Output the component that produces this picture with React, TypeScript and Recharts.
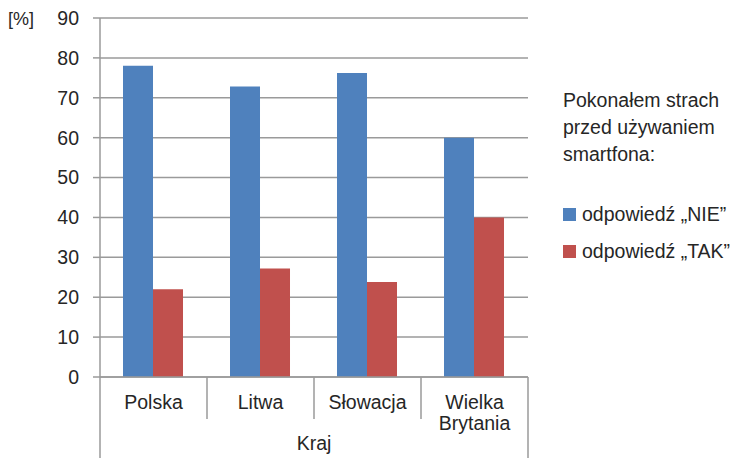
import { Bar, BarChart, CartesianGrid, Legend, XAxis, YAxis } from 'recharts';

const countries = ['Polska', 'Litwa', 'Słowacja', 'Wielka Brytania'];
const nieValues = [78, 72.8, 76.2, 60];
const takValues = [22, 27.2, 23.8, 40];
const yTicks = [0, 10, 20, 30, 40, 50, 60, 70, 80, 90];
const seriesNames = ['odpowiedź „NIE”', 'odpowiedź „TAK”'];
const seriesColors = ['#4F81BD', '#C0504D'];
const legendTitle = ['Pokonałem strach', 'przed używaniem', 'smartfona:'];

const data = countries.map((country, i) => ({ country, nie: nieValues[i], tak: takValues[i] }));

const FONT = '"Liberation Sans", Arial, sans-serif';
const TEXT = '#262626';
const AXIS = '#9a9a9a';
const PLOT_LEFT = 100;
const PLOT_RIGHT = 528;
const band = (PLOT_RIGHT - PLOT_LEFT) / countries.length;

const CountryTick = (props: any) => {
  const { x, y, payload, index } = props;
  const lines = String(payload.value).split(' ');
  const last = index === countries.length - 1;
  return (
    <g>
      <line x1={x - band / 2} x2={x - band / 2} y1={y} y2={index === 0 ? y + 90 : y + 42} stroke={AXIS} strokeWidth={1.5} />
      {last && <line x1={x + band / 2} x2={x + band / 2} y1={y} y2={y + 90} stroke={AXIS} strokeWidth={1.5} />}
      <text x={x} y={y + 32} textAnchor="middle" fontSize={19.5} fontFamily={FONT} fill={TEXT}>
        {lines.map((l, i) => (
          <tspan key={l} x={x} dy={i === 0 ? 0 : 21}>{l}</tspan>
        ))}
      </text>
    </g>
  );
};

const KrajLabel = (props: any) => {
  const { viewBox } = props;
  return (
    <text x={viewBox.x + viewBox.width / 2} y={viewBox.y + 73} textAnchor="middle" fontSize={19.5} fontFamily={FONT} fill={TEXT}>
      Kraj
    </text>
  );
};

const PercentLabel = () => (
  <text x={8} y={25} fontSize={18} fontFamily={FONT} fill={TEXT}>[%]</text>
);

const LegendBox = () => (
  <div style={{ fontFamily: FONT, fontSize: 19.5, color: TEXT }}>
    {legendTitle.map((l) => (
      <div key={l} style={{ lineHeight: '27px' }}>{l}</div>
    ))}
    <div style={{ height: 28 }} />
    {seriesNames.map((n, i) => (
      <div key={n} style={{ display: 'flex', alignItems: 'center', height: 37, whiteSpace: 'nowrap' }}>
        <span style={{ width: 13, height: 13, background: seriesColors[i], marginRight: 6, display: 'inline-block' }} />
        {n}
      </div>
    ))}
  </div>
);

export default function App() {
  return (
    <div style={{ position: 'absolute', left: 0, top: 0, background: '#fff' }}>
      <BarChart
        width={738}
        height={458}
        data={data}
        margin={{ top: 18, right: 738 - PLOT_RIGHT, bottom: 41, left: 0 }}
        barCategoryGap="21.5%"
        barGap={0}
      >
        <CartesianGrid vertical={false} stroke={AXIS} strokeWidth={1.5} />
        <XAxis
          dataKey="country"
          height={40}
          tickLine={false}
          tickSize={0}
          tickMargin={0}
          axisLine={{ stroke: AXIS, strokeWidth: 1.5 }}
          tick={<CountryTick />}
          interval={0}
          label={<KrajLabel />}
        />
        <YAxis
          width={PLOT_LEFT}
          domain={[0, 90]}
          ticks={yTicks}
          interval={0}
          tickSize={7}
          tickMargin={14}
          axisLine={{ stroke: AXIS, strokeWidth: 1.5 }}
          tickLine={{ stroke: AXIS, strokeWidth: 1.5 }}
          tick={{ fontSize: 19.5, fontFamily: FONT, fill: TEXT }}
          label={<PercentLabel />}
        />
        <Legend
          layout="horizontal"
          verticalAlign="middle"
          align="center"
          wrapperStyle={{ left: 563, top: 87, width: 175 }}
          content={<LegendBox />}
        />
        <Bar dataKey="nie" name={seriesNames[0]} fill={seriesColors[0]} isAnimationActive={false} />
        <Bar dataKey="tak" name={seriesNames[1]} fill={seriesColors[1]} isAnimationActive={false} />
      </BarChart>
    </div>
  );
}
